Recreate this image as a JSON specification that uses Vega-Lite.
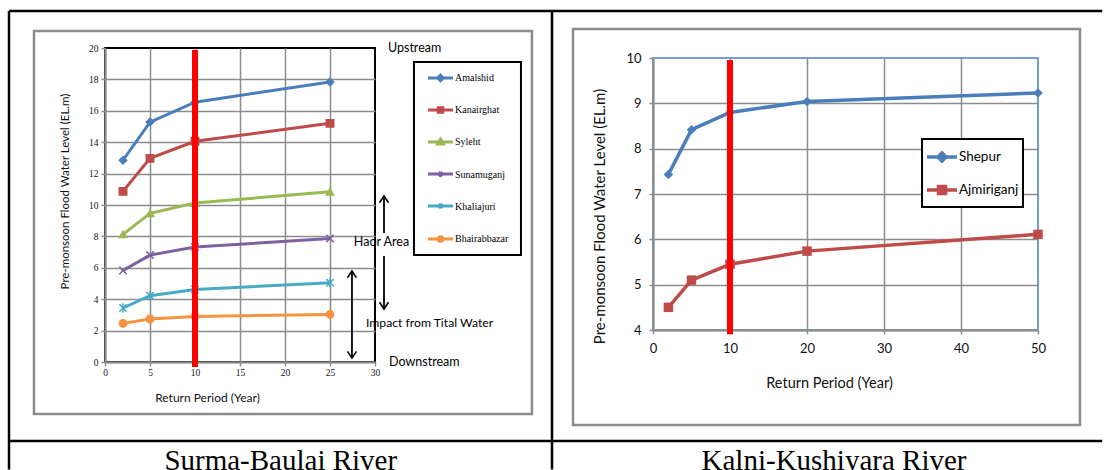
{
  "$schema": "https://vega.github.io/schema/vega-lite/v6.json",
  "background": "white",
  "padding": {"left": 6, "top": 8, "right": 0, "bottom": 0},
  "bounds": "flush",
  "spacing": 278,
  "resolve": {"scale": {"color": "independent", "shape": "independent", "stroke": "independent"}},
  "config": {"font": "Lato", "view": {"stroke": null}},
  "hconcat": [
    {
      "width": 270,
      "height": 314,
      "view": {"stroke": "black", "strokeWidth": 2},
      "data": {"values": [
        {"series": "Amalshid", "period": 2, "level": 12.85},
        {"series": "Amalshid", "period": 5, "level": 15.28},
        {"series": "Amalshid", "period": 10, "level": 16.55},
        {"series": "Amalshid", "period": 25, "level": 17.84},
        {"series": "Kanairghat", "period": 2, "level": 10.87},
        {"series": "Kanairghat", "period": 5, "level": 12.97},
        {"series": "Kanairghat", "period": 10, "level": 14.06},
        {"series": "Kanairghat", "period": 25, "level": 15.2},
        {"series": "Syleht", "period": 2, "level": 8.13},
        {"series": "Syleht", "period": 5, "level": 9.47},
        {"series": "Syleht", "period": 10, "level": 10.13},
        {"series": "Syleht", "period": 25, "level": 10.84},
        {"series": "Sunamuganj", "period": 2, "level": 5.83},
        {"series": "Sunamuganj", "period": 5, "level": 6.81},
        {"series": "Sunamuganj", "period": 10, "level": 7.32},
        {"series": "Sunamuganj", "period": 25, "level": 7.87},
        {"series": "Khaliajuri", "period": 2, "level": 3.44},
        {"series": "Khaliajuri", "period": 5, "level": 4.22},
        {"series": "Khaliajuri", "period": 10, "level": 4.62},
        {"series": "Khaliajuri", "period": 25, "level": 5.05},
        {"series": "Bhairabbazar", "period": 2, "level": 2.46},
        {"series": "Bhairabbazar", "period": 5, "level": 2.74},
        {"series": "Bhairabbazar", "period": 10, "level": 2.9},
        {"series": "Bhairabbazar", "period": 25, "level": 3.03}
      ]},
      "layer": [
        {
          "mark": {"type": "line", "strokeWidth": 3, "clip": false},
          "encoding": {
            "x": {"field": "period", "type": "quantitative", "scale": {"domain": [0, 30], "nice": false, "zero": false},
              "axis": {"values": [0, 5, 10, 15, 20, 25, 30], "tickCount": 20, "format": "d", "grid": true, "gridColor": "#8C8C8C", "gridWidth": 1.5,
                "gridOpacity": {"condition": {"test": "datum.value === 30", "value": 0}, "value": 1},
                "domainColor": "#8C8C8C", "domainWidth": 2, "tickColor": "#8C8C8C", "tickWidth": 1.5, "tickSize": 4,
                "labelFont": "Liberation Serif", "labelFontSize": 9.5, "labelColor": "#111111", "labelPadding": 1, "labelFlush": false, "labelOverlap": false,
                "title": "Return Period (Year)", "titleFont": "Lato", "titleFontSize": 12, "titleFontWeight": "normal", "titleColor": "#111111",
                "titleX": 102, "titleY": 35, "titleAlign": "center", "titleBaseline": "middle"}},
            "y": {"field": "level", "type": "quantitative", "scale": {"domain": [0, 20], "nice": false, "zero": false},
              "axis": {"values": [0, 2, 4, 6, 8, 10, 12, 14, 16, 18, 20], "tickCount": 20, "format": "d", "grid": true, "gridColor": "#8C8C8C", "gridWidth": 1.5,
                "gridOpacity": {"condition": {"test": "datum.value === 20", "value": 0}, "value": 1},
                "domainColor": "#8C8C8C", "domainWidth": 2, "tickColor": "#8C8C8C", "tickWidth": 1.5, "tickSize": 4,
                "labelFont": "Liberation Serif", "labelFontSize": 9.5, "labelColor": "#111111", "labelPadding": 3, "labelFlush": false, "labelOverlap": false,
                "title": "Pre-monsoon Flood Water Level (EL.m)", "titleFont": "Lato", "titleFontSize": 11.5, "titleFontWeight": "normal", "titleColor": "#111111",
                "titleAngle": -90, "titleX": -40, "titleY": 143, "titleAlign": "center", "titleBaseline": "middle"}},
            "color": {"field": "series", "type": "nominal", "sort": null,
              "scale": {"domain": ["Amalshid", "Kanairghat", "Syleht", "Sunamuganj", "Khaliajuri", "Bhairabbazar"],
                        "range": ["#4A7EBB", "#BE4B48", "#98B954", "#7D60A0", "#46AAC5", "#F69240"]},
              "legend": null}
          }
        },
        {
          "mark": {"type": "point", "filled": true, "size": 55, "strokeWidth": 1.5, "opacity": 1, "clip": false},
          "encoding": {
            "x": {"field": "period", "type": "quantitative", "scale": {"domain": [0, 30], "nice": false, "zero": false}},
            "y": {"field": "level", "type": "quantitative", "scale": {"domain": [0, 20], "nice": false, "zero": false}},
            "color": {"field": "series", "type": "nominal", "sort": null,
              "scale": {"domain": ["Amalshid", "Kanairghat", "Syleht", "Sunamuganj", "Khaliajuri", "Bhairabbazar"],
                        "range": ["#4A7EBB", "#BE4B48", "#98B954", "#7D60A0", "#46AAC5", "#F69240"]}, "legend": null},
            "stroke": {"field": "series", "type": "nominal", "sort": null,
              "scale": {"domain": ["Amalshid", "Kanairghat", "Syleht", "Sunamuganj", "Khaliajuri", "Bhairabbazar"],
                        "range": ["#4A7EBB", "#BE4B48", "#98B954", "#7D60A0", "#46AAC5", "#F69240"]}, "legend": null},
            "shape": {"field": "series", "type": "nominal", "sort": null,
              "scale": {"domain": ["Amalshid", "Kanairghat", "Syleht", "Sunamuganj", "Khaliajuri", "Bhairabbazar"],
                        "range": ["diamond", "square", "triangle-up", "M-1,-1L1,1M-1,1L1,-1", "M-1,-1L1,1M-1,1L1,-1M0,-1.3V1.3", "circle"]}, "legend": null}
          }
        },
        {
          "data": {"values": [{}]},
          "mark": {"type": "rect", "fill": "white", "fillOpacity": 0, "stroke": "#8C8C8C", "strokeWidth": 2.5, "clip": false},
          "encoding": {
            "x": {"datum": -7.89, "type": "quantitative"},
            "x2": {"datum": 47.44},
            "y": {"datum": 21.08, "type": "quantitative"},
            "y2": {"datum": -3.31}
          }
        },
        {
          "data": {"values": [{}]},
          "mark": {"type": "rule", "color": "black", "strokeWidth": 2.5, "clip": false},
          "encoding": {"x": {"datum": -10.667, "type": "quantitative"}, "x2": {"datum": 110.8}, "y": {"datum": 22.357, "type": "quantitative"}}
        },
        {
          "data": {"values": [{}]},
          "mark": {"type": "rule", "color": "black", "strokeWidth": 2.5, "clip": false},
          "encoding": {"x": {"datum": -10.667, "type": "quantitative"}, "x2": {"datum": 110.8}, "y": {"datum": -5.032, "type": "quantitative"}}
        },
        {
          "data": {"values": [{}]},
          "mark": {"type": "rule", "color": "black", "strokeWidth": 2.5, "clip": false},
          "encoding": {"x": {"datum": -10.667, "type": "quantitative"}, "y": {"datum": 22.357, "type": "quantitative"}, "y2": {"datum": -6.85}}
        },
        {
          "data": {"values": [{}]},
          "mark": {"type": "rule", "color": "black", "strokeWidth": 2.5, "clip": false},
          "encoding": {"x": {"datum": 49.667, "type": "quantitative"}, "y": {"datum": 22.357, "type": "quantitative"}, "y2": {"datum": -6.85}}
        },
        {
          "data": {"values": [{}]},
          "mark": {"type": "rule", "color": "#FF0000", "strokeWidth": 6, "clip": false},
          "encoding": {"x": {"datum": 10, "type": "quantitative"}, "y": {"datum": 19.87, "type": "quantitative"}, "y2": {"datum": -0.32}}
        },
        {
          "data": {"values": [{}]},
          "mark": {"type": "rect", "fill": "white", "stroke": "black", "strokeWidth": 2, "clip": false},
          "encoding": {"x": {"datum": 34.33, "type": "quantitative"}, "x2": {"datum": 46.22}, "y": {"datum": 19.11, "type": "quantitative"}, "y2": {"datum": 6.82}}
        },
        {
          "data": {"values": [{}]},
          "mark": {"type": "point", "shape": "M-2.5,0H2.5M0,-0.55L0.55,0L0,0.55L-0.55,0Z", "size": 100, "filled": true, "fill": "#4A7EBB", "stroke": "#4A7EBB", "strokeWidth": 3, "opacity": 1, "clip": false},
          "encoding": {"x": {"datum": 37.28, "type": "quantitative"}, "y": {"datum": 18.09, "type": "quantitative"}}
        },
        {
          "data": {"values": [{}]},
          "mark": {"type": "point", "shape": "M-2.5,0H2.5M-0.45,-0.45H0.45V0.45H-0.45Z", "size": 100, "filled": true, "fill": "#BE4B48", "stroke": "#BE4B48", "strokeWidth": 3, "opacity": 1, "clip": false},
          "encoding": {"x": {"datum": 37.28, "type": "quantitative"}, "y": {"datum": 16.05, "type": "quantitative"}}
        },
        {
          "data": {"values": [{}]},
          "mark": {"type": "point", "shape": "M-2.5,0H2.5M0,-0.55L0.55,0.4H-0.55Z", "size": 100, "filled": true, "fill": "#98B954", "stroke": "#98B954", "strokeWidth": 3, "opacity": 1, "clip": false},
          "encoding": {"x": {"datum": 37.28, "type": "quantitative"}, "y": {"datum": 14.01, "type": "quantitative"}}
        },
        {
          "data": {"values": [{}]},
          "mark": {"type": "point", "shape": "M-2.5,0H2.5M-0.4,-0.4L0.4,0.4M-0.4,0.4L0.4,-0.4", "size": 100, "filled": true, "fill": "#7D60A0", "stroke": "#7D60A0", "strokeWidth": 3, "opacity": 1, "clip": false},
          "encoding": {"x": {"datum": 37.28, "type": "quantitative"}, "y": {"datum": 11.97, "type": "quantitative"}}
        },
        {
          "data": {"values": [{}]},
          "mark": {"type": "point", "shape": "M-2.5,0H2.5M-0.4,-0.4L0.4,0.4M-0.4,0.4L0.4,-0.4M0,-0.5V0.5", "size": 100, "filled": true, "fill": "#46AAC5", "stroke": "#46AAC5", "strokeWidth": 3, "opacity": 1, "clip": false},
          "encoding": {"x": {"datum": 37.28, "type": "quantitative"}, "y": {"datum": 9.94, "type": "quantitative"}}
        },
        {
          "data": {"values": [{}]},
          "mark": {"type": "point", "shape": "M-2.5,0H2.5M-0.45,-0.19L-0.19,-0.45L0.19,-0.45L0.45,-0.19L0.45,0.19L0.19,0.45L-0.19,0.45L-0.45,0.19Z", "size": 100, "filled": true, "fill": "#F69240", "stroke": "#F69240", "strokeWidth": 3, "opacity": 1, "clip": false},
          "encoding": {"x": {"datum": 37.28, "type": "quantitative"}, "y": {"datum": 7.83, "type": "quantitative"}}
        },
        {
          "data": {"values": [{}]},
          "mark": {"type": "text", "text": ["Amalshid", "Kanairghat", "Syleht", "Sunamuganj", "Khaliajuri", "Bhairabbazar"], "lineHeight": 32.2, "font": "Liberation Serif", "fontSize": 10, "align": "left", "baseline": "middle", "color": "black", "clip": false},
          "encoding": {"x": {"datum": 38.89, "type": "quantitative"}, "y": {"datum": 18.09, "type": "quantitative"}}
        },
        {
          "data": {"values": [{}]},
          "mark": {"type": "rule", "color": "black", "strokeWidth": 1.8, "clip": false},
          "encoding": {"x": {"datum": 31.0, "type": "quantitative"}, "y": {"datum": 10.57, "type": "quantitative"}, "y2": {"datum": 8.22}}
        },
        {
          "data": {"values": [{}]},
          "mark": {"type": "rule", "color": "black", "strokeWidth": 1.8, "clip": false},
          "encoding": {"x": {"datum": 31.0, "type": "quantitative"}, "y": {"datum": 6.75, "type": "quantitative"}, "y2": {"datum": 3.38}}
        },
        {
          "data": {"values": [{}]},
          "mark": {"type": "rule", "color": "black", "strokeWidth": 1.8, "clip": false},
          "encoding": {"x": {"datum": 27.44, "type": "quantitative"}, "y": {"datum": 5.8, "type": "quantitative"}, "y2": {"datum": 0.25}}
        },
        {
          "data": {"values": [{}]},
          "mark": {"type": "point", "shape": "M-1,1.5L0,0L1,1.5", "filled": false, "color": "black", "strokeWidth": 1.6, "size": 81, "opacity": 1, "clip": false},
          "encoding": {"x": {"datum": 31.0, "type": "quantitative"}, "y": {"datum": 10.57, "type": "quantitative"}}
        },
        {
          "data": {"values": [{}]},
          "mark": {"type": "point", "shape": "M-1,-1.5L0,0L1,-1.5", "filled": false, "color": "black", "strokeWidth": 1.6, "size": 81, "opacity": 1, "clip": false},
          "encoding": {"x": {"datum": 31.0, "type": "quantitative"}, "y": {"datum": 3.38, "type": "quantitative"}}
        },
        {
          "data": {"values": [{}]},
          "mark": {"type": "point", "shape": "M-1,1.5L0,0L1,1.5", "filled": false, "color": "black", "strokeWidth": 1.6, "size": 81, "opacity": 1, "clip": false},
          "encoding": {"x": {"datum": 27.44, "type": "quantitative"}, "y": {"datum": 5.8, "type": "quantitative"}}
        },
        {
          "data": {"values": [{}]},
          "mark": {"type": "point", "shape": "M-1,-1.5L0,0L1,-1.5", "filled": false, "color": "black", "strokeWidth": 1.6, "size": 81, "opacity": 1, "clip": false},
          "encoding": {"x": {"datum": 27.44, "type": "quantitative"}, "y": {"datum": 0.25, "type": "quantitative"}}
        },
        {
          "data": {"values": [{}]},
          "mark": {"type": "text", "text": "Upstream", "font": "Lato", "fontSize": 12.5, "align": "left", "baseline": "middle", "color": "black", "clip": false},
          "encoding": {"x": {"datum": 31.44, "type": "quantitative"}, "y": {"datum": 20.0, "type": "quantitative"}}
        },
        {
          "data": {"values": [{}]},
          "mark": {"type": "text", "text": "Downstream", "font": "Lato", "fontSize": 12.5, "align": "left", "baseline": "middle", "color": "black", "clip": false},
          "encoding": {"x": {"datum": 31.56, "type": "quantitative"}, "y": {"datum": 0, "type": "quantitative"}}
        },
        {
          "data": {"values": [{}]},
          "mark": {"type": "text", "text": "Haor Area", "font": "Lato", "fontSize": 12.5, "align": "center", "baseline": "middle", "color": "black", "clip": false},
          "encoding": {"x": {"datum": 30.72, "type": "quantitative"}, "y": {"datum": 7.64, "type": "quantitative"}}
        },
        {
          "data": {"values": [{}]},
          "mark": {"type": "text", "text": "Impact from Tital Water", "font": "Lato", "fontSize": 12.2, "align": "left", "baseline": "middle", "color": "black", "clip": false},
          "encoding": {"x": {"datum": 29.0, "type": "quantitative"}, "y": {"datum": 2.48, "type": "quantitative"}}
        },
        {
          "data": {"values": [{}]},
          "mark": {"type": "text", "text": "Surma-Baulai River", "font": "Liberation Serif", "fontSize": 29, "align": "center", "baseline": "alphabetic", "color": "black", "clip": false},
          "encoding": {"x": {"datum": 19.53, "type": "quantitative"}, "y": {"datum": -6.879, "type": "quantitative"}}
        }
      ]
    },
    {
      "bounds": "flush",
      "spacing": 9,
      "resolve": {"scale": {"color": "independent", "shape": "independent", "stroke": "independent"}},
      "vconcat": [
        {
          "width": 385,
          "height": 1,
          "view": {"stroke": null},
          "data": {"values": []},
          "mark": {"type": "point", "opacity": 0},
          "encoding": {}
        },
        {
          "width": 385,
          "height": 272,
          "view": {"stroke": "#4A7EBB", "strokeWidth": 1.5},
          "data": {"values": [
            {"station": "Shepur", "period": 2, "level": 7.43},
            {"station": "Shepur", "period": 5, "level": 8.42},
            {"station": "Shepur", "period": 10, "level": 8.8},
            {"station": "Shepur", "period": 20, "level": 9.04},
            {"station": "Shepur", "period": 50, "level": 9.23},
            {"station": "Ajmiriganj", "period": 2, "level": 4.5},
            {"station": "Ajmiriganj", "period": 5, "level": 5.1},
            {"station": "Ajmiriganj", "period": 10, "level": 5.45},
            {"station": "Ajmiriganj", "period": 20, "level": 5.74},
            {"station": "Ajmiriganj", "period": 50, "level": 6.11}
          ]},
          "layer": [
            {
              "mark": {"type": "line", "strokeWidth": 3.5, "clip": false},
              "encoding": {
                "x": {"field": "period", "type": "quantitative", "scale": {"domain": [0, 50], "nice": false, "zero": false},
                  "axis": {"values": [0, 10, 20, 30, 40, 50], "tickCount": 20, "format": "d", "grid": true, "gridColor": "#8C8C8C", "gridWidth": 1.5,
                    "gridOpacity": {"condition": {"test": "datum.value === 50", "value": 0}, "value": 1},
                    "domainColor": "#8C8C8C", "domainWidth": 2, "tickColor": "#8C8C8C", "tickWidth": 1.5, "tickSize": 4,
                    "labelFont": "Lato", "labelFontSize": 13, "labelColor": "#111111", "labelPadding": 8, "labelFlush": false, "labelOverlap": false,
                    "title": "Return Period (Year)", "titleFont": "Lato", "titleFontSize": 14.5, "titleFontWeight": "normal", "titleColor": "#111111",
                    "titleX": 176, "titleY": 53, "titleAlign": "center", "titleBaseline": "middle"}},
                "y": {"field": "level", "type": "quantitative", "scale": {"domain": [4, 10], "nice": false, "zero": false},
                  "axis": {"values": [4, 5, 6, 7, 8, 9, 10], "tickCount": 20, "format": "d", "grid": true, "gridColor": "#8C8C8C", "gridWidth": 1.5,
                    "gridOpacity": {"condition": {"test": "datum.value === 10", "value": 0}, "value": 1},
                    "domainColor": "#8C8C8C", "domainWidth": 2, "tickColor": "#8C8C8C", "tickWidth": 1.5, "tickSize": 4,
                    "labelFont": "Lato", "labelFontSize": 13, "labelColor": "#111111", "labelPadding": 8, "labelFlush": false, "labelOverlap": false,
                    "title": "Pre-monsoon Flood Water Level (EL.m)", "titleFont": "Lato", "titleFontSize": 15, "titleFontWeight": "normal", "titleColor": "#111111",
                    "titleAngle": -90, "titleX": -54, "titleY": 158, "titleAlign": "center", "titleBaseline": "middle"}},
                "color": {"field": "station", "type": "nominal", "sort": null,
                  "scale": {"domain": ["Shepur", "Ajmiriganj"], "range": ["#4A7EBB", "#BE4B48"]}, "legend": null}
              }
            },
            {
              "mark": {"type": "point", "filled": true, "size": 90, "strokeWidth": 1.5, "opacity": 1, "clip": false},
              "encoding": {
                "x": {"field": "period", "type": "quantitative", "scale": {"domain": [0, 50], "nice": false, "zero": false}},
                "y": {"field": "level", "type": "quantitative", "scale": {"domain": [4, 10], "nice": false, "zero": false}},
                "color": {"field": "station", "type": "nominal", "sort": null,
                  "scale": {"domain": ["Shepur", "Ajmiriganj"], "range": ["#4A7EBB", "#BE4B48"]}, "legend": null},
                "shape": {"field": "station", "type": "nominal", "sort": null,
                  "scale": {"domain": ["Shepur", "Ajmiriganj"], "range": ["diamond", "square"]}, "legend": null}
              }
            },
            {
              "data": {"values": [{}]},
              "mark": {"type": "rect", "fill": "white", "fillOpacity": 0, "stroke": "#8C8C8C", "strokeWidth": 2.5, "clip": false},
              "encoding": {"x": {"datum": -10.39, "type": "quantitative"}, "x2": {"datum": 55.45}, "y": {"datum": 10.64, "type": "quantitative"}, "y2": {"datum": 1.904}}
            },
            {
              "data": {"values": [{}]},
              "mark": {"type": "rule", "color": "#FF0000", "strokeWidth": 6, "clip": false},
              "encoding": {"x": {"datum": 10, "type": "quantitative"}, "y": {"datum": 9.956, "type": "quantitative"}, "y2": {"datum": 3.905}}
            },
            {
              "data": {"values": [{}]},
              "mark": {"type": "rect", "fill": "white", "stroke": "black", "strokeWidth": 2, "clip": false},
              "encoding": {"x": {"datum": 34.94, "type": "quantitative"}, "x2": {"datum": 48.05}, "y": {"datum": 8.213, "type": "quantitative"}, "y2": {"datum": 6.713}}
            },
            {
              "data": {"values": [{}]},
              "mark": {"type": "point", "shape": "M-3,0H3M0,-0.8L0.8,0L0,0.8L-0.8,0Z", "size": 100, "filled": true, "fill": "#4A7EBB", "stroke": "#4A7EBB", "strokeWidth": 3.5, "opacity": 1, "clip": false},
              "encoding": {"x": {"datum": 37.53, "type": "quantitative"}, "y": {"datum": 7.816, "type": "quantitative"}}
            },
            {
              "data": {"values": [{}]},
              "mark": {"type": "point", "shape": "M-3,0H3M-0.7,-0.7H0.7V0.7H-0.7Z", "size": 100, "filled": true, "fill": "#BE4B48", "stroke": "#BE4B48", "strokeWidth": 3.5, "opacity": 1, "clip": false},
              "encoding": {"x": {"datum": 37.53, "type": "quantitative"}, "y": {"datum": 7.088, "type": "quantitative"}}
            },
            {
              "data": {"values": [{}]},
              "mark": {"type": "text", "text": "Shepur", "font": "Lato", "fontSize": 13.5, "align": "left", "baseline": "middle", "color": "black", "clip": false},
              "encoding": {"x": {"datum": 39.74, "type": "quantitative"}, "y": {"datum": 7.816, "type": "quantitative"}}
            },
            {
              "data": {"values": [{}]},
              "mark": {"type": "text", "text": "Ajmiriganj", "font": "Lato", "fontSize": 13.5, "align": "left", "baseline": "middle", "color": "black", "clip": false},
              "encoding": {"x": {"datum": 39.74, "type": "quantitative"}, "y": {"datum": 7.088, "type": "quantitative"}}
            },
            {
              "data": {"values": [{}]},
              "mark": {"type": "text", "text": "Kalni-Kushiyara River", "font": "Liberation Serif", "fontSize": 29, "align": "center", "baseline": "alphabetic", "color": "black", "clip": false},
              "encoding": {"x": {"datum": 23.51, "type": "quantitative"}, "y": {"datum": 0.912, "type": "quantitative"}}
            }
          ]
        }
      ]
    }
  ]
}
